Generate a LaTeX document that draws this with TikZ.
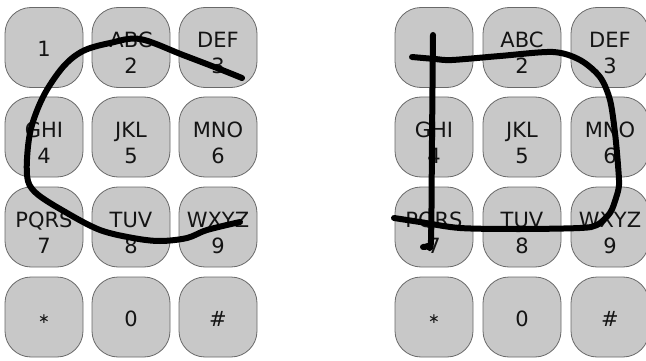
\documentclass[tikz,border=0pt]{standalone}
\usepackage{fontspec}
\setmainfont{DejaVu Sans}
\definecolor{keyfill}{RGB}{200,200,200}
\definecolor{keyedge}{RGB}{105,105,105}
\definecolor{txt}{RGB}{20,20,20}
\newcommand\padkey[5]{%
  \node[key] (#1) at (#2,#3) {};
  \node[lbl] (#1a) at (#2,#3) {#4};
  \node[lbl] (#1b) at (#2,{#3+26}) {#5};}
\newcommand\padone[4]{%
  \node[key] (#1) at (#2,#3) {};
  \node[lbl] (#1a) at (#2,{#3+9}) {#4};}
\begin{document}
\begin{tikzpicture}[x=1pt,y=-1pt,
  key/.style={draw=keyedge, line width=0.8pt, fill=keyfill, rounded corners=26pt,
    minimum width=78pt, minimum height=80pt, inner sep=0pt},
  lbl/.style={anchor=base, inner sep=0pt, text=txt, font=\fontsize{21}{21}\selectfont},
  starlbl/.style={anchor=center, inner sep=0pt, text=txt, font=\fontsize{14}{14}\selectfont},
  stroke/.style={line width=6pt, line cap=round, line join=round}]
\useasboundingbox (0,0) rectangle (646,361);
% left keypad
\padone{L1}{44}{47.5}{1}
\padkey{L2}{131}{47.5}{ABC}{2}
\padkey{L3}{218}{47.5}{DEF}{3}
\padkey{L4}{44}{137}{GHI}{4}
\padkey{L5}{131}{137}{JKL}{5}
\padkey{L6}{218}{137}{MNO}{6}
\padkey{L7}{44}{227}{PQRS}{7}
\padkey{L8}{131}{227}{TUV}{8}
\padkey{L9}{218}{227}{WXYZ}{9}
\node[key] (Lstar) at (44,317) {};
\node[starlbl] (Lstara) at (44,319) {∗};
\padone{L0}{131}{317}{0}
\padone{Lhash}{218}{317}{\#}
% right keypad
\node[key] (R1) at (434,47.5) {};
\padkey{R2}{522}{47.5}{ABC}{2}
\padkey{R3}{610}{47.5}{DEF}{3}
\padkey{R4}{434}{137}{GHI}{4}
\padkey{R5}{522}{137}{JKL}{5}
\padkey{R6}{610}{137}{MNO}{6}
\padkey{R7}{434}{227}{PQRS}{7}
\padkey{R8}{522}{227}{TUV}{8}
\padkey{R9}{610}{227}{WXYZ}{9}
\node[key] (Rstar) at (434,317) {};
\node[starlbl] (Rstara) at (434,319) {∗};
\padone{R0}{522}{317}{0}
\padone{Rhash}{610}{317}{\#}
% gesture strokes
\draw[stroke] plot[smooth, tension=0.55] coordinates {(242,78) (217,68) (183,55) (140,39) (110,43) (83,51) (63,67) (43,97) (30,133) (27,175) (36,193) (67,213) (100,230) (133,238) (160,241) (187,238) (207,230) (240,222)};
\draw[stroke] plot[smooth, tension=0.5] coordinates {(433,35) (432,140) (431,240) (428,246) (423,247)};
\draw[stroke] plot[smooth, tension=0.5] coordinates {(412,57) (435,59) (452,60) (500,56) (553,52) (580,60) (600,77) (610,100) (615,133) (618,165) (619,185) (616,198) (610,213) (597,225) (580,228) (520,229) (460,228) (420,222) (394,218)};
\end{tikzpicture}
\end{document}
